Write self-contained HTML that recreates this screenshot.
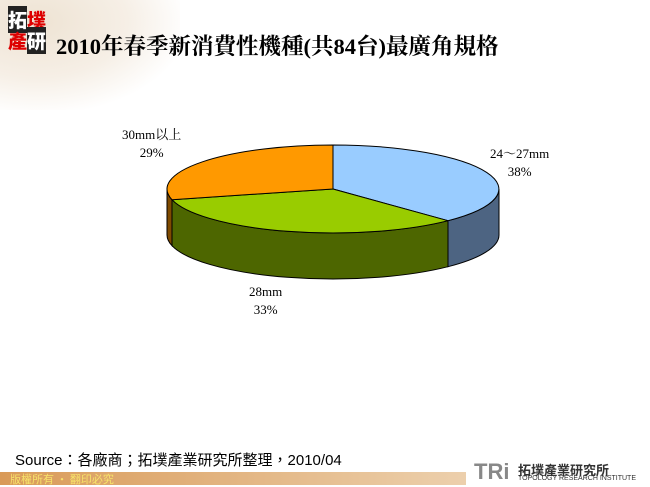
<!DOCTYPE html>
<html><head><meta charset="utf-8"><style>
body{margin:0;width:650px;height:485px;overflow:hidden;background:#fff;position:relative;font-family:"Liberation Serif","Noto Serif CJK SC",serif}
.bg{position:absolute;left:0;top:0;width:180px;height:110px;background:radial-gradient(ellipse at 20% 20%,#eee3d3 0%,#f6efe6 45%,rgba(255,255,255,0) 75%)}
.title{position:absolute;left:56px;top:29px;font-size:22.5px;font-weight:bold;color:#000;white-space:nowrap}
.logo{position:absolute;left:8px;top:9px;font-family:"Noto Sans CJK TC",sans-serif;font-weight:900;font-size:19px;line-height:21px;width:42px}
.lab{position:absolute;font-size:13px;color:#000;text-align:center;line-height:18px}
.src{position:absolute;left:15px;top:449px;font-family:"Liberation Sans","Noto Sans CJK TC",sans-serif;font-size:15px}
.bar{position:absolute;left:0;top:472px;width:650px;height:13px;background:linear-gradient(90deg,#d99a58,#e9c79e 60%,#f4e4d0)}
.bar span{position:absolute;left:10px;top:-1px;font-family:"Noto Sans CJK TC",sans-serif;font-size:11px;color:#f7e36a}
.tri{position:absolute;left:466px;top:459px;width:184px;height:26px;background:#fff;border-radius:10px 0 0 0}
</style></head><body>
<div class="bg"></div>
<div class="logo"><span style="background:#222;color:#fff">拓</span><span style="color:#d00">墣</span><br><span style="color:#d00">產</span><span style="background:#222;color:#fff">研</span></div>
<div class="title">2010年春季新消費性機種(共84台)最廣角規格</div>
<svg width="650" height="485" style="position:absolute;left:0;top:0" stroke="#000" stroke-width="1">
<path d="M499,189 A166,44 0 0 1 448,220.7 L448,266.7 A166,44 0 0 0 499,235 Z" fill="#4d6482"/>
<path d="M448,220.7 A166,44 0 0 1 172,199.7 L172,245.7 A166,44 0 0 0 448,266.7 Z" fill="#4d6600"/>
<path d="M172,199.7 A166,44 0 0 1 167,189 L167,235 A166,44 0 0 0 172,245.7 Z" fill="#7f4a00"/>
<path d="M333,189 L333,145 A166,44 0 0 1 448,220.7 Z" fill="#99ccff"/>
<path d="M333,189 L448,220.7 A166,44 0 0 1 172,199.7 Z" fill="#99cc00"/>
<path d="M333,189 L172,199.7 A166,44 0 0 1 333,145 Z" fill="#ff9900"/>
</svg>
<div class="lab" style="left:122px;top:126px">30mm以上<br>29%</div>
<div class="lab" style="left:490px;top:145px">24～27mm<br>38%</div>
<div class="lab" style="left:249px;top:283px">28mm<br>33%</div>
<div class="src">Source：各廠商；拓墣產業研究所整理，2010/04</div>
<div class="bar"><span>版權所有 • 翻印必究</span></div>
<div class="tri"><span style="position:absolute;left:8px;top:0;font:bold 22px 'Liberation Sans',sans-serif;color:#888">TRi</span><span style="position:absolute;left:52px;top:1px;font:bold 13px 'Noto Sans CJK TC',sans-serif;color:#333">拓墣產業研究所</span><span style="position:absolute;left:52px;top:16px;font:7px 'Liberation Sans',sans-serif;color:#333">TOPOLOGY RESEARCH INSTITUTE</span></div>
</body></html>
